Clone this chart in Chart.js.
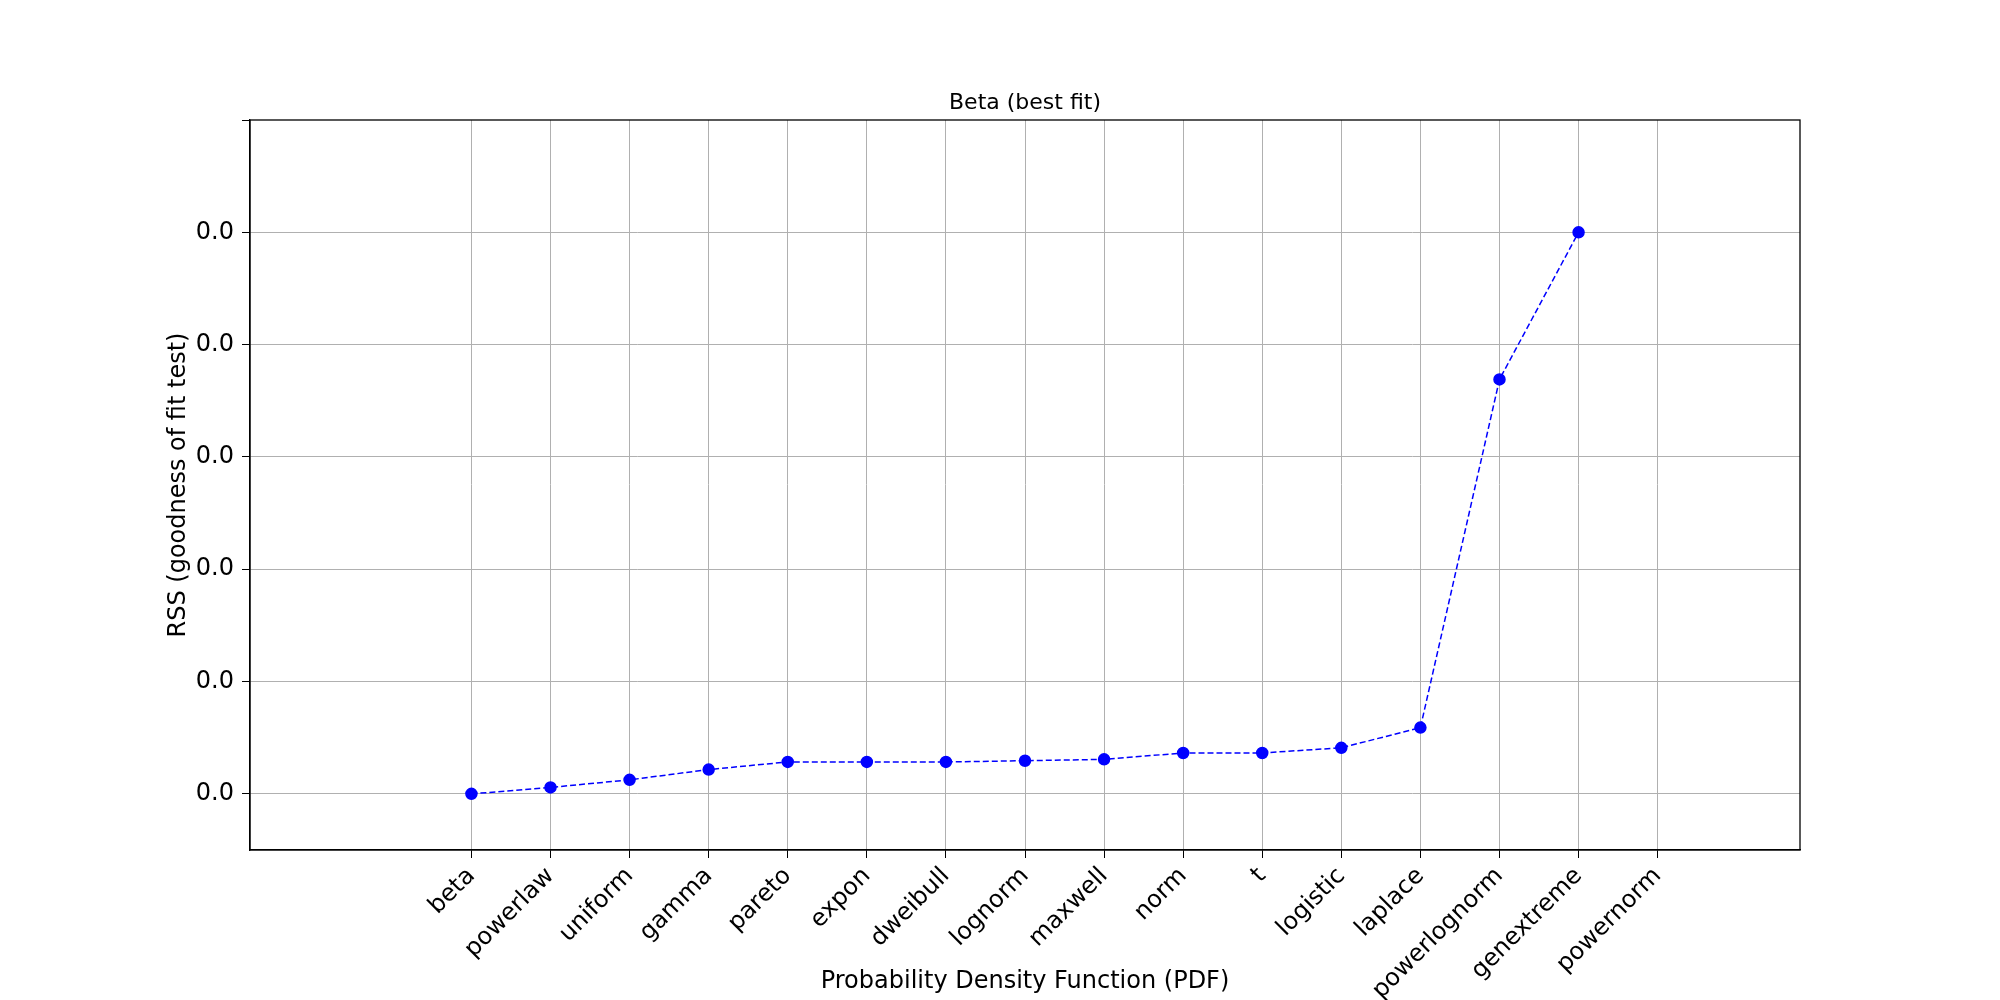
<!DOCTYPE html>
<html>
<head>
<meta charset="utf-8">
<script src="https://cdn.jsdelivr.net/npm/chart.js@4/dist/chart.umd.min.js"></script>
<style>
  html, body { margin: 0; padding: 0; background: #fff; }
  #wrap { width: 2000px; height: 1000px; }
</style>
</head>
<body>
<div id="wrap"><canvas id="rssChart" width="2000" height="1000"></canvas></div>
<script>
// distributions, sorted by fit
var distNames = ["beta", "powerlaw", "uniform", "gamma", "pareto", "expon", "dweibull", "lognorm",
                 "maxwell", "norm", "t", "logistic", "laplace", "powerlognorm", "genextreme", "powernorm"];
// RSS values (relative units)
var rssValues = [0, 0.057, 0.125, 0.216, 0.284, 0.284, 0.284, 0.295,
                 0.307, 0.364, 0.364, 0.41, 0.59, 3.69, 5.0, null];
var yTicks = [0, 1, 2, 3, 4, 5, 6];
var chartTitle = "Beta (best fit)";

var points = distNames.map(function(n, i){ return {x: i, y: rssValues[i]}; });
var font = {family: "'DejaVu Sans', sans-serif", size: 24};

Chart.defaults.font.family = font.family;
Chart.defaults.color = "#000";

new Chart(document.getElementById("rssChart"), {
    type: 'line',
    data: {
        datasets: [{
            data: points,
            borderColor: "#0000ff",
            backgroundColor: "#0000ff",
            borderWidth: 1.5,
            borderDash: [6, 3],
            pointRadius: 5.5,
            pointBorderColor: "#0000ff",
            pointBackgroundColor: "#0000ff",
            spanGaps: false,
            tension: 0
        }]
    },
    options: {
        responsive: false,
        animation: false,
        layout: {padding: {left: 160, right: 200, top: 120, bottom: 0}},
        plugins: {
            legend: {display: false},
            tooltip: {enabled: false},
            title: {display: false}
        },
        scales: {
            x: {
                type: 'linear', min: -2.8, max: 16.8,
                afterBuildTicks: function(s){ s.ticks = distNames.map(function(n, i){ return {value: i}; }); },
                ticks: {callback: function(v){ return distNames[v]; }, font: font, maxRotation: 45, minRotation: 45,
                        autoSkip: false, padding: 4},
                grid: {color: "#b0b0b0", lineWidth: 1, drawTicks: true, tickLength: 8, tickColor: "#000"},
                border: {display: true, color: "#000", width: 1.3},
                title: {display: true, text: "Probability Density Function (PDF)", font: font, padding: {top: 40}},
                afterFit: function(s){ s.height = 150; }
            },
            y: {
                min: -0.5, max: 6,
                afterBuildTicks: function(s){ s.ticks = yTicks.map(function(v){ return {value: v}; }); },
                ticks: {callback: function(v){ return v === 6 ? "" : "0.0"; }, font: font, padding: 8},
                grid: {color: function(c){ return c.tick && c.tick.value === 6 ? "rgba(0,0,0,0)" : "#b0b0b0"; },
                       lineWidth: 1, drawTicks: true, tickLength: 8, tickColor: "#000"},
                border: {display: true, color: "#000", width: 1.3},
                title: {display: true, text: "RSS (goodness of fit test)", font: font, padding: {bottom: 4}},
                afterFit: function(s){ s.width = 90; }
            }
        }
    },
    plugins: [{
        id: 'frame',
        afterDraw: function(chart){
            var a = chart.chartArea, ctx = chart.ctx;
            ctx.save();
            ctx.strokeStyle = "#000";
            ctx.lineWidth = 1.3;
            ctx.strokeRect(a.left, a.top, a.right - a.left, a.bottom - a.top);
            ctx.font = "22px 'DejaVu Sans', sans-serif";
            ctx.fillStyle = "#000";
            ctx.textAlign = "center";
            ctx.textBaseline = "bottom";
            ctx.fillText(chartTitle, (a.left + a.right) / 2, a.top - 6);
            ctx.restore();
        }
    }]
});
</script>
</body>
</html>
